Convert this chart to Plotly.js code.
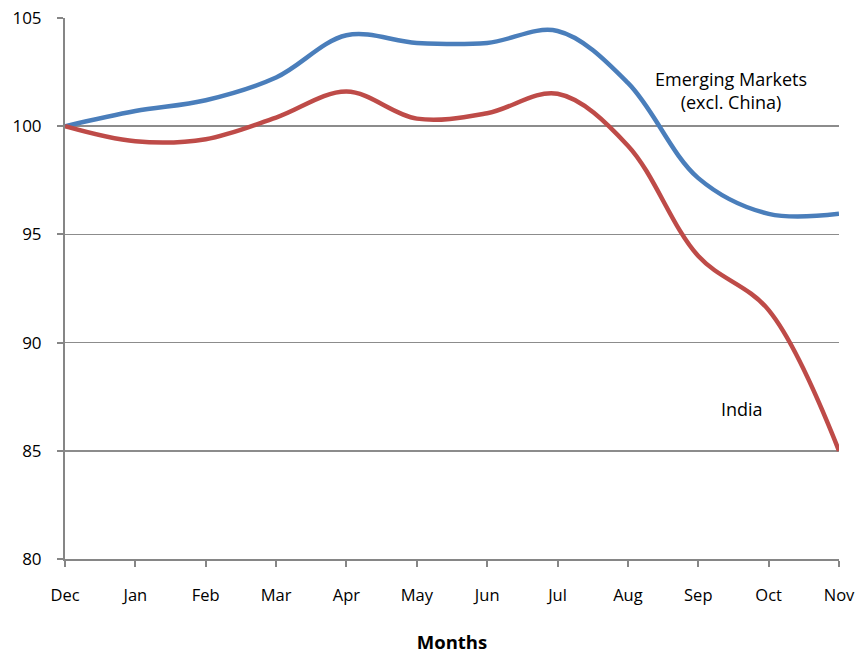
<!DOCTYPE html>
<html><head><meta charset="utf-8">
<script src="https://cdn.plot.ly/plotly-3.0.1.min.js"></script>
<style>html,body{margin:0;padding:0;background:#fff;}</style>
</head><body>
<div id="chart" style="width:859px;height:657px;"></div>
<script>
const months = ["Dec","Jan","Feb","Mar","Apr","May","Jun","Jul","Aug","Sep","Oct","Nov"];
const emergingMarkets = [100, 100.7, 101.2, 102.25, 104.2, 103.85, 103.85, 104.4, 102.0, 97.6, 95.95, 95.95];
const india = [100, 99.3, 99.4, 100.4, 101.6, 100.35, 100.6, 101.5, 99.1, 94.0, 91.5, 85.0];
const yTicks = [80, 85, 90, 95, 100, 105];

const xIdx = months.map((m, i) => i);
const font = "Open Sans, Lato, sans-serif";

const traces = [
  {x: xIdx, y: emergingMarkets, type: "scatter", mode: "lines", name: "Emerging Markets (excl. China)",
   line: {color: "#4a7ebb", width: 4.5, shape: "spline", smoothing: 1}},
  {x: xIdx, y: india, type: "scatter", mode: "lines", name: "India",
   line: {color: "#be4b48", width: 4.5, shape: "spline", smoothing: 1}}
];

const layout = {
  width: 859, height: 657,
  margin: {l: 65, r: 20, t: 18, b: 98},
  paper_bgcolor: "#fff", plot_bgcolor: "#fff",
  showlegend: false,
  font: {family: font, size: 17, color: "#000"},
  xaxis: {
    range: [0, 11], tickvals: xIdx, ticktext: months,
    showgrid: false, zeroline: false,
    showline: true, linecolor: "#868686", linewidth: 2,
    ticks: "outside", ticklen: 6, tickcolor: "#868686", tickwidth: 2,
    ticklabelstandoff: 14,
    tickfont: {family: font, size: 16.5},
    title: {text: "<b>Months</b>", font: {family: font, size: 18.5}, standoff: 31}
  },
  yaxis: {
    range: [80, 105], tickvals: yTicks,
    showgrid: true, gridcolor: "#8c8c8c", gridwidth: 1.5,
    zeroline: false,
    showline: true, linecolor: "#868686", linewidth: 2,
    ticks: "outside", ticklen: 6, tickcolor: "#868686", tickwidth: 2,
    ticklabelstandoff: 12,
    tickfont: {family: font, size: 17}
  },
  annotations: [
    {x: 9.47, y: 101.65, xref: "x", yref: "y", text: "Emerging Markets<br>(excl. China)",
     showarrow: false, font: {family: font, size: 18, color: "#000", lineposition: "none"}, align: "center"},
    {x: 9.62, y: 86.93, xref: "x", yref: "y", text: "India",
     showarrow: false, font: {family: font, size: 18, color: "#000"}}
  ]
};

Plotly.newPlot("chart", traces, layout, {displayModeBar: false, staticPlot: true});
</script>
</body></html>
